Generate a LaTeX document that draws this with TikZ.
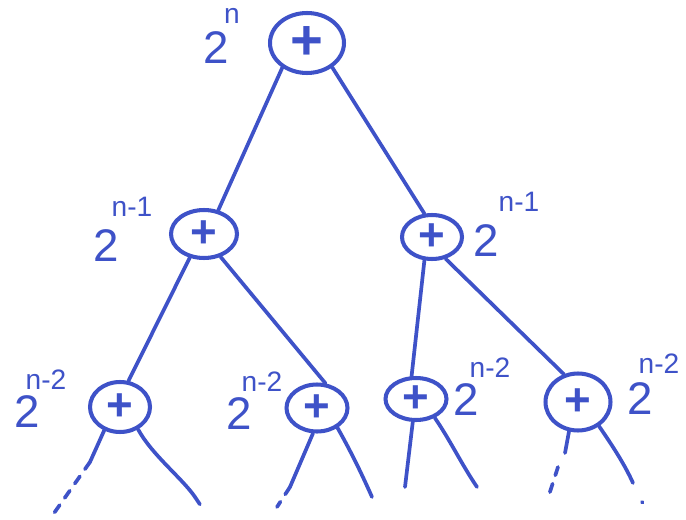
\documentclass[tikz,border=0pt]{standalone}
\usepackage{fontspec}
\setmainfont{Liberation Sans}
\usetikzlibrary{shapes.geometric}
\definecolor{ink}{RGB}{62,82,200}
\begin{document}
\begin{tikzpicture}[x=0.02cm,y=-0.02cm,
  edge/.style={draw=ink, line width=2.1pt, line cap=round},
  tail/.style={edge, dash pattern=on 5pt off 5pt},
  adder/.style={ellipse, draw=ink, line width=2.3pt, inner sep=0pt, text=ink, font=\bfseries\fontsize{26}{26}\selectfont},
  base/.style={text=ink, font=\fontsize{26}{26}\selectfont, inner sep=0pt},
  expo/.style={text=ink, font=\fontsize{16}{16}\selectfont, inner sep=0pt}]
\fill[white] (0,0) rectangle (686,520);
\useasboundingbox (0,0) rectangle (686,520);

% adders
\node[adder, minimum width=1.48cm, minimum height=1.2cm, font=\bfseries\fontsize{32}{32}\selectfont] (root) at (307,43) {+};
\node[adder, minimum width=1.32cm, minimum height=0.96cm] (l) at (204,234) {+};
\node[adder, minimum width=1.2cm, minimum height=0.88cm] (r) at (432,237) {+};
\node[adder, minimum width=1.2cm, minimum height=1.0cm] (a) at (120,407) {+};
\node[adder, minimum width=1.22cm, minimum height=0.94cm] (b) at (317,408) {+};
\node[adder, minimum width=1.22cm, minimum height=0.84cm] (c) at (416,399) {+};
\node[adder, minimum width=1.3cm, minimum height=1.14cm] (d) at (578,402) {+};

% labels
\node[base] (rootb) at (216,48) {2};
\node[expo] (roote) at (232,16) {n};
\node[base] (lb) at (106,246) {2};
\node[expo] (le) at (132,207) {n-1};
\node[base] (rb) at (486,241) {2};
\node[expo] (re) at (519,202) {n-1};
\node[base] (ab) at (27,412) {2};
\node[expo] (ae) at (46,380) {n-2};
\node[base] (bb) at (239,414) {2};
\node[expo] (be) at (262,382) {n-2};
\node[base] (cb) at (466,400) {2};
\node[expo] (ce) at (490,368) {n-2};
\node[base] (db) at (640,399) {2};
\node[expo] (de) at (659,364) {n-2};

% tree edges
\draw[edge] (root.225) -- (l.59);
\draw[edge] (root.316) -- (r.108);
\draw[edge] (l.239) -- (a.72);
\draw[edge] (l.306) -- (b.71);
\draw[edge] (r.252) -- (c.101);
\draw[edge] (r.302) -- (d.117);

% loose ends
\coordinate (a1) at (90,462);   \coordinate (a1e) at (52,516);
\coordinate (a2) at (195,497);  \coordinate (a2e) at (201,506);
\coordinate (b1) at (290,487);  \coordinate (b1e) at (277,507);
\coordinate (b2e) at (372,497);
\coordinate (c1e) at (405,487);
\coordinate (c2e) at (477,487);
\coordinate (d1) at (565,453);  \coordinate (d1s) at (558,467); \coordinate (d1e) at (548,498);
\coordinate (d2) at (633,483);  \coordinate (d2e) at (642,502);

\draw[edge] (a.236) -- (a1);
\draw[tail] (a1) -- (a1e);
\draw[edge] (a.309) .. controls (152,455) and (182,478) .. (a2);
\draw[tail] (a2) -- (a2e);
\draw[edge] (b.261) -- (b1);
\draw[tail] (b1) -- (b1e);
\draw[edge] (b.316) .. controls (350,450) and (360,470) .. (b2e);
\draw[edge] (c.262) -- (c1e);
\draw[edge] (c.315) .. controls (450,440) and (462,465) .. (c2e);
\draw[edge] (d.253) -- (d1);
\draw[tail] (d1s) -- (d1e);
\draw[edge] (d.311) .. controls (612,445) and (625,465) .. (d2);
\draw[edge] (d2e) -- ++(0.5,0.5);
\end{tikzpicture}
\end{document}
